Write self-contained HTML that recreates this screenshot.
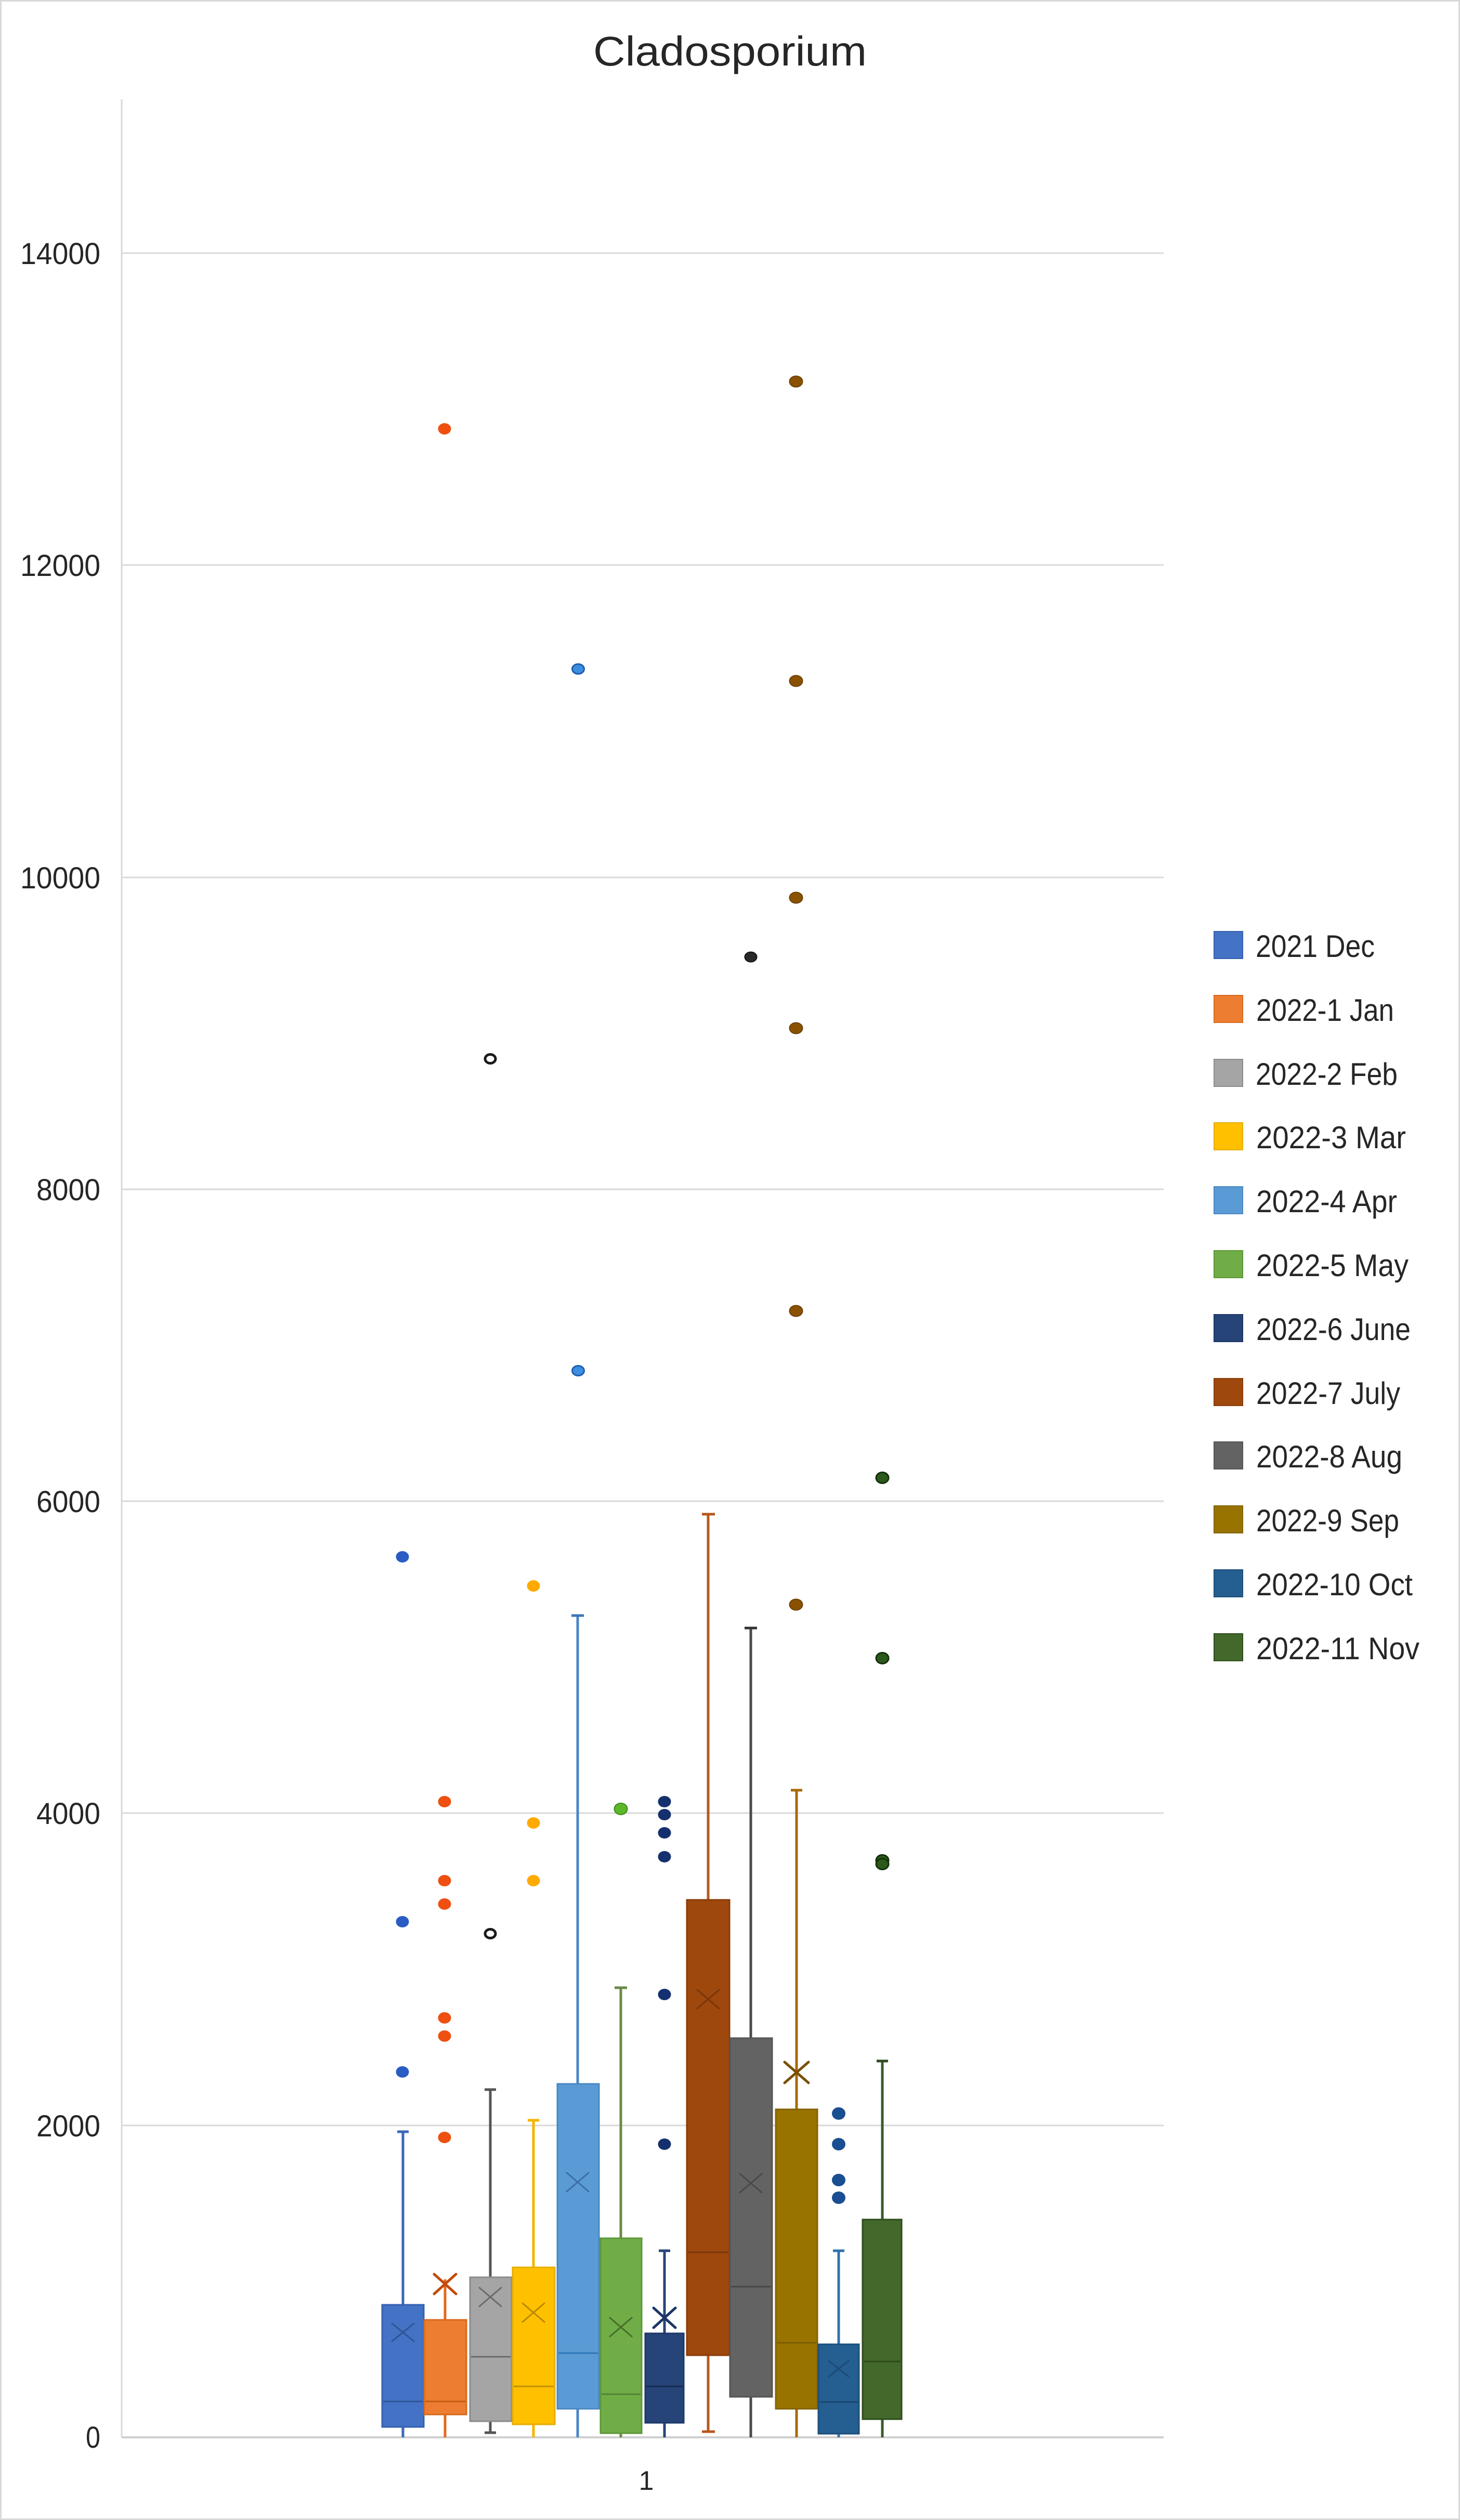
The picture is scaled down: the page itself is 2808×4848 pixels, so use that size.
<!DOCTYPE html>
<html>
<head>
<meta charset="utf-8">
<style>
html,body{margin:0;padding:0;background:#fff;}
svg{display:block;}
text{font-family:"Liberation Sans",sans-serif;fill:#262626;}
</style>
</head>
<body>
<svg width="2808" height="4848" viewBox="0 0 2808 4848" xmlns="http://www.w3.org/2000/svg">
<rect x="0" y="0" width="2808" height="4848" fill="#fff"/>
<rect x="1.5" y="1.5" width="2805" height="4845" fill="none" stroke="#d9d9d9" stroke-width="3"/>

<!-- title -->
<text x="1141" y="126" font-size="80" textLength="526" lengthAdjust="spacingAndGlyphs">Cladosporium</text>

<!-- gridlines -->
<g stroke="#d9d9d9" stroke-width="3">
<line x1="234" y1="487" x2="2238" y2="487"/>
<line x1="234" y1="1087" x2="2238" y2="1087"/>
<line x1="234" y1="1688" x2="2238" y2="1688"/>
<line x1="234" y1="2288" x2="2238" y2="2288"/>
<line x1="234" y1="2888" x2="2238" y2="2888"/>
<line x1="234" y1="3488" x2="2238" y2="3488"/>
<line x1="234" y1="4089" x2="2238" y2="4089"/>
<line x1="234" y1="191" x2="234" y2="4689"/>
</g>
<line x1="234" y1="4689" x2="2238" y2="4689" stroke="#cfcfcf" stroke-width="4"/>

<!-- y labels -->
<g font-size="58">
<text x="39" y="508" textLength="154" lengthAdjust="spacingAndGlyphs">14000</text>
<text x="39" y="1108" textLength="154" lengthAdjust="spacingAndGlyphs">12000</text>
<text x="39" y="1709" textLength="154" lengthAdjust="spacingAndGlyphs">10000</text>
<text x="70" y="2309" textLength="123" lengthAdjust="spacingAndGlyphs">8000</text>
<text x="70" y="2909" textLength="123" lengthAdjust="spacingAndGlyphs">6000</text>
<text x="70" y="3509" textLength="123" lengthAdjust="spacingAndGlyphs">4000</text>
<text x="70" y="4110" textLength="123" lengthAdjust="spacingAndGlyphs">2000</text>
<text x="165" y="4709" textLength="28" lengthAdjust="spacingAndGlyphs">0</text>
</g>
<text x="1243" y="4790" font-size="52" text-anchor="middle">1</text>

<!-- whiskers -->
<g stroke-width="5" fill="none">
<line x1="775" y1="4101" x2="775" y2="4689" stroke="#3a68b8"/>
<line x1="856" y1="4385" x2="856" y2="4689" stroke="#e0691f"/>
<line x1="943" y1="4020" x2="943" y2="4680" stroke="#555555"/>
<line x1="1026" y1="4079" x2="1026" y2="4689" stroke="#f5b400"/>
<line x1="1111" y1="3108" x2="1111" y2="4689" stroke="#4a86c6"/>
<line x1="1194" y1="3824" x2="1194" y2="4689" stroke="#6a8a45"/>
<line x1="1278" y1="4330" x2="1278" y2="4689" stroke="#264478"/>
<line x1="1362" y1="2913" x2="1362" y2="4678" stroke="#b8581c"/>
<line x1="1444" y1="3132" x2="1444" y2="4689" stroke="#4a4a4a"/>
<line x1="1532" y1="3444" x2="1532" y2="4689" stroke="#a86a00"/>
<line x1="1613" y1="4330" x2="1613" y2="4689" stroke="#3070b0"/>
<line x1="1697" y1="3965" x2="1697" y2="4689" stroke="#3a5a2a"/>
</g>
<!-- caps -->
<g stroke-width="5">
<line x1="764" y1="4101" x2="786" y2="4101" stroke="#3a68b8"/>
<line x1="932" y1="4020" x2="954" y2="4020" stroke="#555555"/>
<line x1="932" y1="4680" x2="954" y2="4680" stroke="#555555"/>
<line x1="1015" y1="4079" x2="1037" y2="4079" stroke="#f5b400"/>
<line x1="1099" y1="3108" x2="1123" y2="3108" stroke="#3a76b6"/>
<line x1="1182" y1="3824" x2="1206" y2="3824" stroke="#6a8a45"/>
<line x1="1267" y1="4330" x2="1289" y2="4330" stroke="#264478"/>
<line x1="1350" y1="2913" x2="1375" y2="2913" stroke="#b8581c"/>
<line x1="1350" y1="4678" x2="1375" y2="4678" stroke="#b8581c"/>
<line x1="1432" y1="3132" x2="1456" y2="3132" stroke="#333333"/>
<line x1="1521" y1="3444" x2="1543" y2="3444" stroke="#a86a00"/>
<line x1="1602" y1="4330" x2="1624" y2="4330" stroke="#3070b0"/>
<line x1="1686" y1="3965" x2="1708" y2="3965" stroke="#2e4a20"/>
</g>

<!-- boxes -->
<g stroke-width="3">
<rect x="735" y="4434" width="80" height="235" fill="#4472C4" stroke="#3561b0"/>
<rect x="816" y="4463" width="81" height="182" fill="#ED7D31" stroke="#d9691d"/>
<rect x="904" y="4381" width="80" height="277" fill="#A5A5A5" stroke="#8c8c8c"/>
<rect x="986" y="4362" width="81" height="302" fill="#FFC000" stroke="#e6ad00"/>
<rect x="1072" y="4009" width="80" height="625" fill="#5B9BD5" stroke="#4a88c2"/>
<rect x="1155" y="4306" width="79" height="375" fill="#70AD47" stroke="#5e9738"/>
<rect x="1241" y="4489" width="74" height="172" fill="#264478" stroke="#1d3767"/>
<rect x="1321" y="3655" width="82" height="876" fill="#9E480E" stroke="#8a3c08"/>
<rect x="1404" y="3921" width="81" height="690" fill="#636363" stroke="#555555"/>
<rect x="1492" y="4058" width="80" height="576" fill="#997300" stroke="#846300"/>
<rect x="1574" y="4510" width="78" height="172" fill="#255E91" stroke="#1d4f7c"/>
<rect x="1659" y="4270" width="75" height="384" fill="#43682B" stroke="#2e4d1b"/>
</g>

<!-- medians -->
<g stroke-width="3">
<line x1="737" y1="4620" x2="813" y2="4620" stroke="#2f5597"/>
<line x1="818" y1="4620" x2="895" y2="4620" stroke="#c55a11"/>
<line x1="906" y1="4534" x2="982" y2="4534" stroke="#6b6b6b"/>
<line x1="988" y1="4591" x2="1065" y2="4591" stroke="#bf9000"/>
<line x1="1074" y1="4527" x2="1150" y2="4527" stroke="#2e75b6"/>
<line x1="1157" y1="4606" x2="1232" y2="4606" stroke="#548235"/>
<line x1="1243" y1="4591" x2="1313" y2="4591" stroke="#152a4f"/>
<line x1="1323" y1="4333" x2="1401" y2="4333" stroke="#7a3508"/>
<line x1="1406" y1="4399" x2="1483" y2="4399" stroke="#474747"/>
<line x1="1494" y1="4507" x2="1570" y2="4507" stroke="#7a5c00"/>
<line x1="1576" y1="4621" x2="1650" y2="4621" stroke="#1a4570"/>
<line x1="1661" y1="4543" x2="1732" y2="4543" stroke="#2c4a1a"/>
</g>

<!-- mean markers -->
<g fill="none" stroke-linecap="round">
<path d="M754 4470 L796 4504 M796 4470 L754 4504" stroke="#2f5597" stroke-width="3"/>
<path d="M835 4375 L877 4413 M877 4375 L835 4413" stroke="#c24a0c" stroke-width="5"/>
<path d="M922 4401 L964 4437 M964 4401 L922 4437" stroke="#6b6b6b" stroke-width="3"/>
<path d="M1005 4431 L1047 4467 M1047 4431 L1005 4467" stroke="#b88a00" stroke-width="3"/>
<path d="M1090 4180 L1132 4216 M1132 4180 L1090 4216" stroke="#3a6fa8" stroke-width="3"/>
<path d="M1173 4459 L1215 4495 M1215 4459 L1173 4495" stroke="#456e2a" stroke-width="3"/>
<path d="M1257 4440 L1299 4478 M1299 4440 L1257 4478" stroke="#1c3566" stroke-width="5"/>
<path d="M1341 3828 L1383 3864 M1383 3828 L1341 3864" stroke="#7a3508" stroke-width="3"/>
<path d="M1423 4182 L1465 4218 M1465 4182 L1423 4218" stroke="#4a4a4a" stroke-width="3"/>
<path d="M1509 3967 L1555 4007 M1555 3967 L1509 4007" stroke="#7a5000" stroke-width="5"/>
<path d="M1594 4542 L1632 4572 M1632 4542 L1594 4572" stroke="#1d4a78" stroke-width="3"/>
</g>

<!-- outliers -->
<g fill="#2a5cc4">
<ellipse cx="774" cy="2995" rx="12.5" ry="11"/>
<ellipse cx="774" cy="3697" rx="12.5" ry="11"/>
<ellipse cx="774" cy="3986" rx="12.5" ry="11"/>
</g>
<g fill="#ef4f10">
<ellipse cx="855" cy="825" rx="12.5" ry="11"/>
<ellipse cx="855" cy="3466" rx="12.5" ry="11"/>
<ellipse cx="855" cy="3618" rx="12.5" ry="11"/>
<ellipse cx="855" cy="3663" rx="12.5" ry="11"/>
<ellipse cx="855" cy="3882" rx="12.5" ry="11"/>
<ellipse cx="855" cy="3917" rx="12.5" ry="11"/>
<ellipse cx="855" cy="4112" rx="12.5" ry="11"/>
</g>
<g fill="#ffffff" stroke="#1a1a1a" stroke-width="5">
<ellipse cx="943" cy="2037" rx="10" ry="8.5"/>
<ellipse cx="943" cy="3720" rx="10" ry="8.5"/>
</g>
<g fill="#ffaa00">
<ellipse cx="1026" cy="3051" rx="12.5" ry="11"/>
<ellipse cx="1026" cy="3507" rx="12.5" ry="11"/>
<ellipse cx="1026" cy="3618" rx="12.5" ry="11"/>
</g>
<g fill="#3d8de0" stroke="#1f5fae" stroke-width="3">
<ellipse cx="1112" cy="1287" rx="11.5" ry="9.5"/>
<ellipse cx="1112" cy="2637" rx="11.5" ry="9.5"/>
</g>
<g fill="#5cb82a" stroke="#3c8a1a" stroke-width="2">
<ellipse cx="1194" cy="3480" rx="12.5" ry="11"/>
</g>
<g fill="#14306e">
<ellipse cx="1278" cy="3466" rx="12.5" ry="11"/>
<ellipse cx="1278" cy="3491" rx="12.5" ry="11"/>
<ellipse cx="1278" cy="3526" rx="12.5" ry="11"/>
<ellipse cx="1278" cy="3572" rx="12.5" ry="11"/>
<ellipse cx="1278" cy="3837" rx="12.5" ry="11"/>
<ellipse cx="1278" cy="4125" rx="12.5" ry="11"/>
</g>
<g fill="#2a2a2a" stroke="#111" stroke-width="2">
<ellipse cx="1444" cy="1841" rx="11.5" ry="9.5"/>
</g>
<g fill="#8a5200" stroke="#6e4000" stroke-width="2">
<ellipse cx="1531" cy="734" rx="12.5" ry="10.5"/>
<ellipse cx="1531" cy="1310" rx="12.5" ry="10.5"/>
<ellipse cx="1531" cy="1727" rx="12.5" ry="10.5"/>
<ellipse cx="1531" cy="1978" rx="12.5" ry="10.5"/>
<ellipse cx="1531" cy="2522" rx="12.5" ry="10.5"/>
<ellipse cx="1531" cy="3087" rx="12.5" ry="10.5"/>
</g>
<g fill="#1a4e92">
<ellipse cx="1613" cy="4066" rx="13" ry="12"/>
<ellipse cx="1613" cy="4125" rx="13" ry="12"/>
<ellipse cx="1613" cy="4194" rx="13" ry="12"/>
<ellipse cx="1613" cy="4228" rx="13" ry="12"/>
</g>
<g fill="#2c5a1c" stroke="#14300a" stroke-width="3">
<ellipse cx="1697" cy="2843" rx="12" ry="10.5"/>
<ellipse cx="1697" cy="3190" rx="12" ry="10.5"/>
<ellipse cx="1697" cy="3579" rx="12" ry="10.5"/>
<ellipse cx="1697" cy="3586" rx="12" ry="10.5"/>
</g>

<!-- legend -->
<g stroke-width="2">
<rect x="2335" y="1792" width="55" height="52" fill="#4472C4" stroke="#3561b0"/>
<rect x="2335" y="1915" width="55" height="52" fill="#ED7D31" stroke="#d9691d"/>
<rect x="2335" y="2038" width="55" height="52" fill="#A5A5A5" stroke="#8c8c8c"/>
<rect x="2335" y="2160" width="55" height="52" fill="#FFC000" stroke="#e6ad00"/>
<rect x="2335" y="2283" width="55" height="52" fill="#5B9BD5" stroke="#4a88c2"/>
<rect x="2335" y="2406" width="55" height="52" fill="#70AD47" stroke="#5e9738"/>
<rect x="2335" y="2529" width="55" height="52" fill="#264478" stroke="#1d3767"/>
<rect x="2335" y="2652" width="55" height="52" fill="#9E480E" stroke="#8a3c08"/>
<rect x="2335" y="2774" width="55" height="52" fill="#636363" stroke="#555555"/>
<rect x="2335" y="2897" width="55" height="52" fill="#997300" stroke="#846300"/>
<rect x="2335" y="3020" width="55" height="52" fill="#255E91" stroke="#1d4f7c"/>
<rect x="2335" y="3143" width="55" height="52" fill="#43682B" stroke="#2e4d1b"/>
</g>
<g font-size="60">
<text x="2415" y="1841" textLength="229" lengthAdjust="spacingAndGlyphs">2021 Dec</text>
<text x="2416" y="1964" textLength="265" lengthAdjust="spacingAndGlyphs">2022-1 Jan</text>
<text x="2415" y="2087" textLength="273" lengthAdjust="spacingAndGlyphs">2022-2 Feb</text>
<text x="2416" y="2209" textLength="288" lengthAdjust="spacingAndGlyphs">2022-3 Mar</text>
<text x="2416" y="2332" textLength="271" lengthAdjust="spacingAndGlyphs">2022-4 Apr</text>
<text x="2416" y="2455" textLength="293" lengthAdjust="spacingAndGlyphs">2022-5 May</text>
<text x="2416" y="2578" textLength="297" lengthAdjust="spacingAndGlyphs">2022-6 June</text>
<text x="2416" y="2701" textLength="277" lengthAdjust="spacingAndGlyphs">2022-7 July</text>
<text x="2416" y="2823" textLength="281" lengthAdjust="spacingAndGlyphs">2022-8 Aug</text>
<text x="2416" y="2946" textLength="275" lengthAdjust="spacingAndGlyphs">2022-9 Sep</text>
<text x="2416" y="3069" textLength="301" lengthAdjust="spacingAndGlyphs">2022-10 Oct</text>
<text x="2416" y="3192" textLength="314" lengthAdjust="spacingAndGlyphs">2022-11 Nov</text>
</g>
</svg>
</body>
</html>
